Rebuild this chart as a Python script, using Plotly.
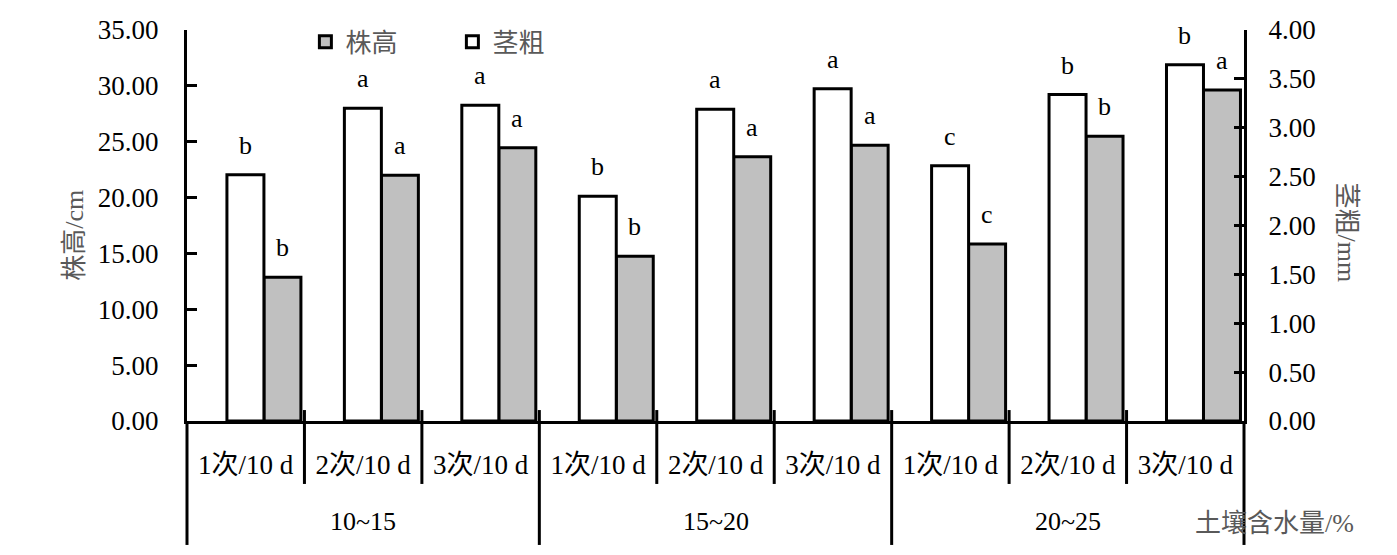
import plotly.graph_objects as go

categories = ["1次/10 d", "2次/10 d", "3次/10 d", "1次/10 d", "2次/10 d", "3次/10 d",
              "1次/10 d", "2次/10 d", "3次/10 d"]
groups = ["10~15", "15~20", "20~25"]
group_centers = [1, 4, 7]
plant_height = [12.86, 22.0, 24.47, 14.74, 23.66, 24.68, 15.85, 25.5, 29.63]
stem_diam = [2.52, 3.20, 3.23, 2.30, 3.19, 3.40, 2.61, 3.34, 3.645]
height_letters = ["b", "a", "a", "b", "a", "a", "c", "b", "a"]
stem_letters = ["b", "a", "a", "b", "a", "a", "c", "b", "b"]
left_ticks = [0, 5, 10, 15, 20, 25, 30, 35]
right_ticks = [0, 0.5, 1, 1.5, 2, 2.5, 3, 3.5, 4]

FONT = "Liberation Serif, Noto Sans CJK SC"
BW = 0.315
WOFF = -0.16
GOFF = WOFF + BW
xs = list(range(len(categories)))

fig = go.Figure()
fig.add_trace(go.Bar(
    x=xs, y=plant_height, name="株高", yaxis="y", width=BW, offset=GOFF,
    marker=dict(color="#C0C0C0", line=dict(color="black", width=3)),
))
fig.add_trace(go.Bar(
    x=xs, y=stem_diam, name="茎粗", yaxis="y2", width=BW, offset=WOFF,
    marker=dict(color="white", line=dict(color="black", width=3)),
))

ann = []
for i in xs:
    ann.append(dict(x=i + WOFF + BW / 2, y=stem_diam[i], xref="x", yref="y2",
                    text=stem_letters[i], showarrow=False, yanchor="bottom", yshift=13,
                    font=dict(family=FONT, size=26, color="black")))
    ann.append(dict(x=i + GOFF + BW / 2, y=plant_height[i], xref="x", yref="y",
                    text=height_letters[i], showarrow=False, yanchor="bottom", yshift=13,
                    font=dict(family=FONT, size=26, color="black")))
for g, c in zip(groups, group_centers):
    ann.append(dict(x=c, y=-0.258, xref="x", yref="paper", text=g, showarrow=False,
                    yanchor="middle", font=dict(family=FONT, size=26, color="black")))
ann.append(dict(x=1.029, y=-0.262, xref="paper", yref="paper", text="土壤含水量/%",
                showarrow=False, xanchor="center", yanchor="middle",
                font=dict(family=FONT, size=26, color="#595959")))
ann.append(dict(x=-0.106, y=0.476, xref="paper", yref="paper", text="株高/cm",
                showarrow=False, textangle=-90, xanchor="center", yanchor="middle",
                font=dict(family=FONT, size=26, color="#595959")))
ann.append(dict(x=1.097, y=0.483, xref="paper", yref="paper", text="茎粗/mm",
                showarrow=False, textangle=90, xanchor="center", yanchor="middle",
                font=dict(family=FONT, size=26, color="#595959")))

shapes = []
for b in [0.5, 1.5, 3.5, 4.5, 6.5, 7.5]:
    shapes.append(dict(type="line", xref="x", yref="paper", x0=b, x1=b, y0=0.028, y1=-0.161,
                       line=dict(color="black", width=3)))
for b in [2.5, 5.5]:
    shapes.append(dict(type="line", xref="x", yref="paper", x0=b, x1=b, y0=0.028, y1=-0.317,
                       line=dict(color="black", width=3)))
for px in [0, 1]:
    shapes.append(dict(type="line", xref="paper", yref="paper", x0=px, x1=px, y0=0, y1=-0.317,
                       line=dict(color="black", width=3)))

fig.update_layout(
    width=1397, height=555,
    margin=dict(l=179, r=161, t=22, b=142, autoexpand=False),
    paper_bgcolor="white", plot_bgcolor="white",
    barmode="overlay",
    showlegend=True,
    legend=dict(orientation="h", x=0.112, y=1.03, xanchor="left", yanchor="top",
                font=dict(family=FONT, size=26, color="#595959"),
                bgcolor="rgba(0,0,0,0)", entrywidth=102, traceorder="normal"),
    xaxis=dict(range=[-0.5, 8.5], tickvals=xs, ticktext=categories, ticks="",
               showline=True, linecolor="black", linewidth=3, showgrid=False, zeroline=False,
               tickfont=dict(family=FONT, size=27, color="black"), ticklabelstandoff=18),
    yaxis=dict(range=[0, 35], tickvals=left_ticks, tickformat=".2f", ticks="inside",
               ticklen=10, tickwidth=3, tickcolor="black", showline=True, linecolor="black",
               linewidth=3, showgrid=False, zeroline=False, ticklabelstandoff=20,
               tickfont=dict(family=FONT, size=27, color="black")),
    yaxis2=dict(range=[0, 4], tickvals=right_ticks, tickformat=".2f", ticks="inside",
                ticklen=10, tickwidth=3, tickcolor="black", showline=True, linecolor="black",
                linewidth=3, showgrid=False, zeroline=False, overlaying="y", side="right",
                ticklabelstandoff=16, tickfont=dict(family=FONT, size=27, color="black")),
    annotations=ann,
    shapes=shapes,
)

fig.write_html("out.html")
